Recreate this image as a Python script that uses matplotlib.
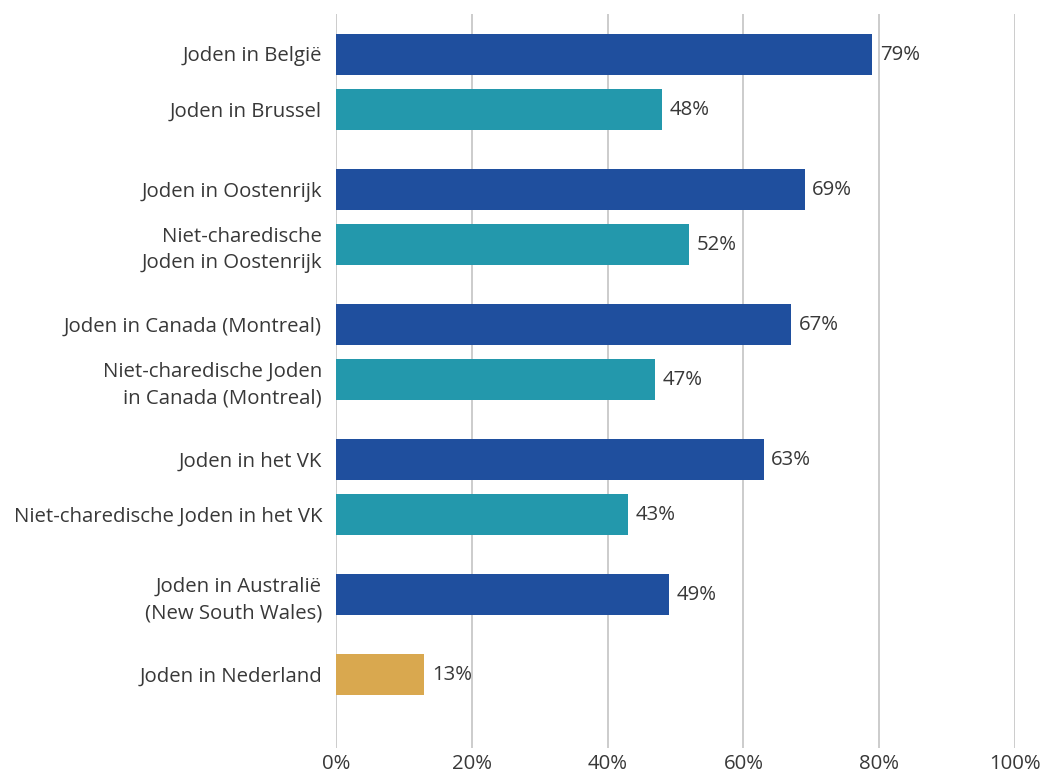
import matplotlib
matplotlib.use('Agg')
import matplotlib.pyplot as plt

# Aandeel per groep (%)
labels = [
    'Joden in België',
    'Joden in Brussel',
    'Joden in Oostenrijk',
    'Niet-charedische\nJoden in Oostenrijk',
    'Joden in Canada (Montreal)',
    'Niet-charedische Joden\nin Canada (Montreal)',
    'Joden in het VK',
    'Niet-charedische Joden in het VK',
    'Joden in Australië\n(New South Wales)',
    'Joden in Nederland',
]
values = [79, 48, 69, 52, 67, 47, 63, 43, 49, 13]
kinds = ['all', 'sub', 'all', 'sub', 'all', 'sub', 'all', 'sub', 'all', 'nl']
group_sizes = [2, 2, 2, 2, 1, 1]
xticks = [0, 20, 40, 60, 80, 100]

colors = {'all': '#1f4f9e', 'sub': '#2398ac', 'nl': '#d9a84f'}
text_color = '#383838'

plt.rcParams['font.family'] = ['Open Sans', 'DejaVu Sans']

# posities: 55 binnen een groep, 80 tussen groepen
ypos = []
y = 54
for g in group_sizes:
    for i in range(g):
        ypos.append(y)
        y += 55
    y += 25

fig = plt.figure(figsize=(10.43, 7.76), dpi=100)
ax = fig.add_axes([336 / 1043, 1 - 748 / 776, (1015 - 336) / 1043, (748 - 14) / 776])

ax.barh(ypos, values, height=41, color=[colors[k] for k in kinds], zorder=3)
for yy, v in zip(ypos, values):
    ax.text(v + 1.1, yy + 1, f'{v}%', va='center', ha='left', fontsize=14.7,
            color=text_color)

ax.set_xlim(0, 100)
ax.set_ylim(748, 14)
ax.set_xticks(xticks)
ax.set_xticklabels([f'{t}%' for t in xticks])
ax.set_yticks(ypos)
ax.set_yticklabels(labels, linespacing=1.45)
ax.tick_params(axis='both', length=0, labelsize=14.7, colors=text_color)
ax.tick_params(axis='y', pad=10)
ax.tick_params(axis='x', pad=4)
ax.grid(axis='x', color='#c4c4c4', linewidth=1.2, zorder=0)
for s in ax.spines.values():
    s.set_visible(False)

fig.savefig('out.png', dpi=100)
